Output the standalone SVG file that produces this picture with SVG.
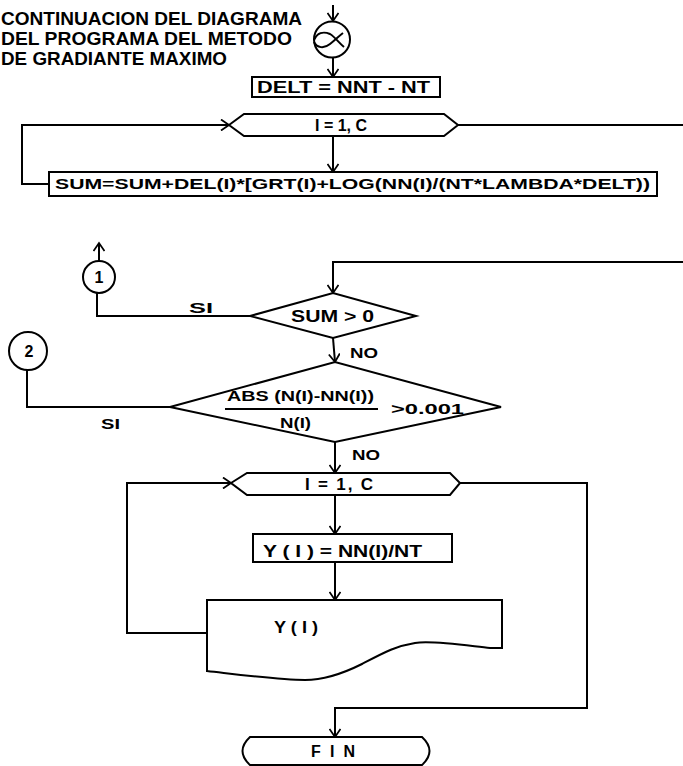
<svg xmlns="http://www.w3.org/2000/svg" width="683" height="766" viewBox="0 0 683 766">
<defs>
<marker id="ah" viewBox="-10 -6 12 12" markerWidth="12" markerHeight="12" refX="0" refY="0" orient="auto" markerUnits="userSpaceOnUse">
<path d="M-8,-5.5 L0,0 L-8,5.5" fill="none" stroke="#000" stroke-width="1.8"/>
</marker>
<style>
.ln{fill:none;stroke:#000;stroke-width:2;stroke-linejoin:miter}
.sh{fill:#fff;stroke:#000;stroke-width:2}
.t{font-family:"Liberation Sans",Arial,sans-serif;font-weight:bold;fill:#000}
</style>
</defs>
<rect width="683" height="766" fill="#fff"/>

<g id="header">
<text class="t" x="1" y="25" font-size="18" textLength="301" lengthAdjust="spacingAndGlyphs">CONTINUACION DEL DIAGRAMA</text>
<text class="t" x="1" y="45" font-size="18" textLength="291" lengthAdjust="spacingAndGlyphs">DEL PROGRAMA DEL METODO</text>
<text class="t" x="1" y="65" font-size="18" textLength="226" lengthAdjust="spacingAndGlyphs">DE GRADIANTE MAXIMO</text>
</g>

<g id="connectors">
<line class="ln" x1="333" y1="5" x2="333" y2="21" marker-end="url(#ah)"/>
<line class="ln" x1="333" y1="57" x2="333" y2="77" marker-end="url(#ah)"/>
<polyline class="ln" points="49,184 22,184 22,125 229,125" marker-end="url(#ah)"/>
<line class="ln" x1="458" y1="125" x2="683" y2="125"/>
<line class="ln" x1="333" y1="136" x2="333" y2="172" marker-end="url(#ah)"/>
<polyline class="ln" points="683,262 333,262 333,293" marker-end="url(#ah)"/>
<polyline class="ln" points="250,316 97,316 97,293"/>
<line class="ln" x1="99" y1="261" x2="99" y2="243" marker-end="url(#ah)"/>
<line class="ln" x1="333" y1="338" x2="335" y2="362" marker-end="url(#ah)"/>
<polyline class="ln" points="170,407 27,407 27,370"/>
<line class="ln" x1="335" y1="442" x2="335" y2="473" marker-end="url(#ah)"/>
<polyline class="ln" points="460,483 587,483 587,708 335,708 335,737" marker-end="url(#ah)"/>
<line class="ln" x1="335" y1="495" x2="335" y2="534" marker-end="url(#ah)"/>
<line class="ln" x1="335" y1="562" x2="335" y2="600" marker-end="url(#ah)"/>
<polyline class="ln" points="207,633 127,633 127,483 231,483" marker-end="url(#ah)"/>
</g>

<g id="connector-top">
<circle class="sh" cx="332" cy="39.5" r="18"/>
<path class="ln" stroke-width="1.8" d="M314,40 C317,33 323,31 330,34 C335,37 339,43 344,47 M314,42 C317,48 324,49 330,44 C335,40 339,36 343,33"/>
</g>

<g id="delt">
<rect class="sh" x="252" y="77" width="188" height="20"/>
<text class="t" x="257" y="93" font-size="16" textLength="173" lengthAdjust="spacingAndGlyphs">DELT = NNT - NT</text>
</g>

<g id="loop1">
<polygon class="sh" points="229,125 244,114 444,114 458,125 444,136 244,136"/>
<text class="t" x="315" y="131" font-size="16" textLength="52" lengthAdjust="spacingAndGlyphs">I = 1, C</text>
</g>

<g id="sum">
<rect class="sh" x="49" y="172" width="608" height="24"/>
<text class="t" x="55" y="189" font-size="15" textLength="595" lengthAdjust="spacingAndGlyphs">SUM=SUM+DEL(I)*[GRT(I)+LOG(NN(I)/(NT*LAMBDA*DELT))</text>
</g>

<g id="conn1">
<circle class="sh" cx="99" cy="277" r="16"/>
<text class="t" x="99" y="283" font-size="16" text-anchor="middle">1</text>
</g>

<g id="dec1">
<polygon class="sh" points="250,316 333,293 416,316 333,338"/>
<text class="t" x="291" y="322" font-size="16" textLength="83" lengthAdjust="spacingAndGlyphs">SUM &gt; 0</text>
<text class="t" x="189" y="313" font-size="15" textLength="24" lengthAdjust="spacingAndGlyphs">SI</text>
<text class="t" x="350" y="358" font-size="15" textLength="28" lengthAdjust="spacingAndGlyphs">NO</text>
</g>

<g id="conn2">
<circle class="sh" cx="28" cy="351" r="19"/>
<text class="t" x="29" y="357" font-size="16" text-anchor="middle">2</text>
</g>

<g id="dec2">
<polygon class="sh" points="170,407 335,362 501,407 335,442"/>
<text class="t" x="227" y="401" font-size="15" textLength="147" lengthAdjust="spacingAndGlyphs">ABS (N(I)-NN(I))</text>
<line class="ln" x1="225" y1="409" x2="378" y2="409"/>
<text class="t" x="280" y="428" font-size="15" textLength="31" lengthAdjust="spacingAndGlyphs">N(I)</text>
<text class="t" x="391" y="414" font-size="15" textLength="73" lengthAdjust="spacingAndGlyphs">&gt;0.001</text>
<text class="t" x="101" y="429" font-size="15" textLength="19" lengthAdjust="spacingAndGlyphs">SI</text>
<text class="t" x="352" y="460" font-size="15" textLength="28" lengthAdjust="spacingAndGlyphs">NO</text>
</g>

<g id="loop2">
<polygon class="sh" points="231,483 247,473 450,473 460,483 450,495 247,495"/>
<text class="t" x="305" y="490" font-size="17" textLength="68" lengthAdjust="spacing">I = 1, C</text>
</g>

<g id="ycalc">
<rect class="sh" x="253" y="534" width="199" height="28"/>
<text class="t" x="263" y="557" font-size="17" textLength="159" lengthAdjust="spacingAndGlyphs">Y ( I ) = NN(I)/NT</text>
</g>

<g id="output">
<path class="sh" d="M207,600 L502,600 L502,648 L490,648 C470,646 432,640 415,643 C396,646 385,652 362,664 C342,674 322,680 305,680 C280,680 250,676 207,671 Z"/>
<text class="t" x="274" y="633" font-size="16" textLength="44" lengthAdjust="spacingAndGlyphs">Y ( I )</text>
</g>

<g id="fin">
<path class="sh" d="M250,737 L422,737 Q437,751 422,765 L250,765 Q235,751 250,737 Z"/>
<text class="t" x="311" y="757" font-size="16" textLength="44" lengthAdjust="spacing">F I N</text>
</g>
</svg>
